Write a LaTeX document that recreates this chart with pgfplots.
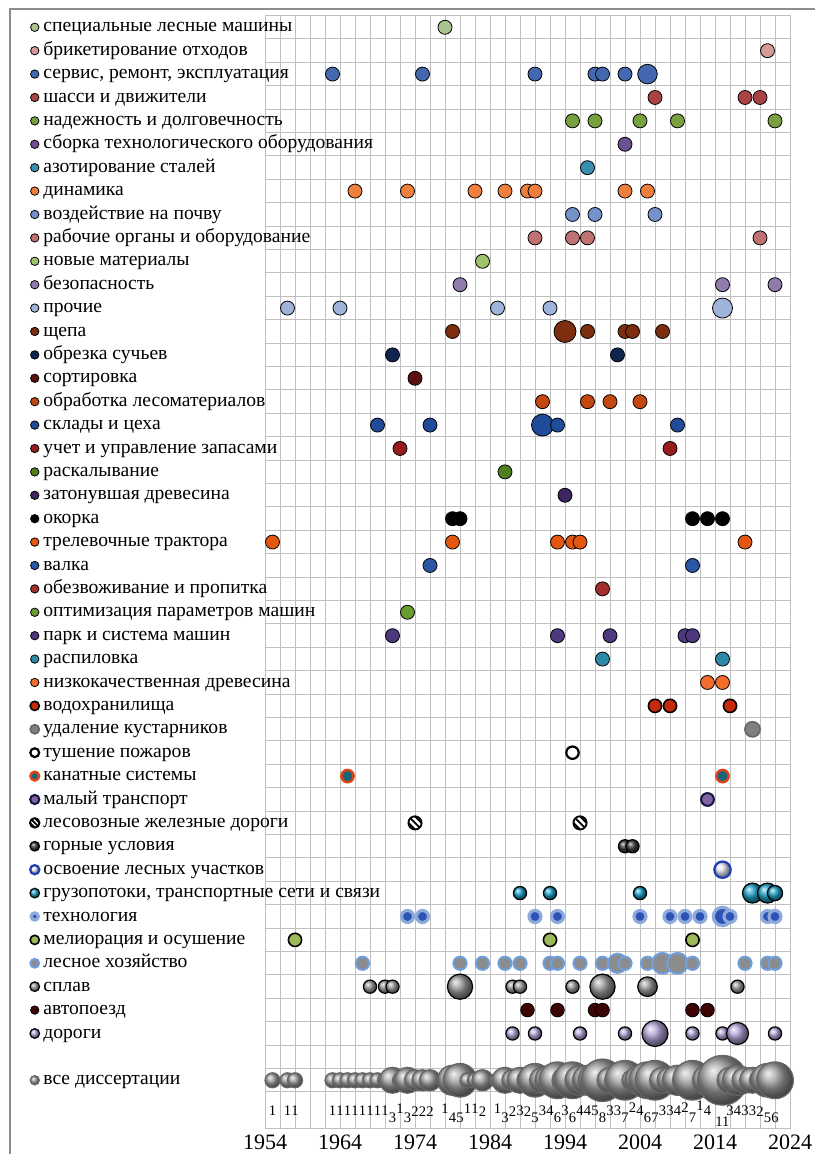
\documentclass[border=0pt]{standalone}
\usepackage{fontspec}
\setmainfont{Liberation Serif}
\usepackage{pgfplots}
\pgfplotsset{compat=1.18}
\definecolor{c1}{HTML}{A9C48E}
\definecolor{c2}{HTML}{D39A98}
\definecolor{c3}{HTML}{4468AF}
\definecolor{c4}{HTML}{A94343}
\definecolor{c5}{HTML}{78A03F}
\definecolor{c6}{HTML}{6B5191}
\definecolor{c7}{HTML}{3B8EAE}
\definecolor{c8}{HTML}{F07E3D}
\definecolor{c9}{HTML}{7491CC}
\definecolor{c10}{HTML}{C07272}
\definecolor{c11}{HTML}{9EC36B}
\definecolor{c12}{HTML}{8F7CAC}
\definecolor{c13}{HTML}{A0B3DA}
\definecolor{c14}{HTML}{7C2E0E}
\definecolor{c15}{HTML}{0F2550}
\definecolor{c16}{HTML}{5B1010}
\definecolor{c17}{HTML}{C3480F}
\definecolor{c18}{HTML}{1F4C99}
\definecolor{c19}{HTML}{971D1D}
\definecolor{c20}{HTML}{4F7F20}
\definecolor{c21}{HTML}{3C2561}
\definecolor{c22}{HTML}{000000}
\definecolor{c23}{HTML}{E3570F}
\definecolor{c24}{HTML}{2A56A6}
\definecolor{c25}{HTML}{A3302D}
\definecolor{c26}{HTML}{6B9C31}
\definecolor{c27}{HTML}{4E3880}
\definecolor{c28}{HTML}{2D89A7}
\definecolor{c29}{HTML}{F36C2C}
\definecolor{c30}{HTML}{C62A0D}
\definecolor{c31}{HTML}{808080}
\definecolor{c33}{HTML}{1A6478}
\definecolor{c33b}{HTML}{E04418}
\definecolor{c34}{HTML}{8064A2}
\definecolor{c34b}{HTML}{14143C}
\definecolor{c36}{HTML}{3A3A3A}
\definecolor{c37}{HTML}{E8E4F4}
\definecolor{c37b}{HTML}{1F3FB0}
\definecolor{c38}{HTML}{1AA0C8}
\definecolor{c39}{HTML}{2D53B5}
\definecolor{c39b}{HTML}{8EAADB}
\definecolor{c40}{HTML}{9BBB59}
\definecolor{c41}{HTML}{8C8C8C}
\definecolor{c41b}{HTML}{6F9FDC}
\definecolor{c42}{HTML}{9A9A9A}
\definecolor{c43}{HTML}{3D0404}
\definecolor{c44}{HTML}{B4A5D8}
\makeatletter
\pgfdeclareplotmark{striped}{%
  \pgfpathcircle{\pgfpointorigin}{\pgfplotmarksize}%
  \pgfsetfillcolor{white}\pgfusepathqfill
  \pgfscope
  \pgfpathcircle{\pgfpointorigin}{\pgfplotmarksize}\pgfusepathqclip
  \pgfpathmoveto{\pgfpoint{-\pgfplotmarksize}{\pgfplotmarksize}}%
  \pgfpathlineto{\pgfpoint{\pgfplotmarksize}{-\pgfplotmarksize}}%
  \pgfpathmoveto{\pgfpoint{-\pgfplotmarksize}{0pt}}%
  \pgfpathlineto{\pgfpoint{0pt}{-\pgfplotmarksize}}%
  \pgfpathmoveto{\pgfpoint{0pt}{\pgfplotmarksize}}%
  \pgfpathlineto{\pgfpoint{\pgfplotmarksize}{0pt}}%
  \pgfusepathqstroke
  \endpgfscope
  \pgfpathcircle{\pgfpointorigin}{\pgfplotmarksize}\pgfusepathqstroke
}
\makeatother
\pgfplotsset{
  vsz/.style={only marks, scatter,
    visualization depends on={\thisrow{s} \as \ms}},
  dot/.style={vsz, mark=*, scatter/use mapped color={draw=none, fill=#1, /tikz/mark size=\ms}},
  odot/.style n args={3}{vsz, mark=*, scatter/use mapped color={draw=#2, fill=#1, line width=#3, /tikz/mark size=\ms}},
  bdot/.style 2 args={vsz, mark=ball, scatter/use mapped color={ball color=#1, draw=#2, line width=0.6pt, /tikz/mark size=\ms}},
}
\begin{document}
\begin{tikzpicture}
\useasboundingbox (0,0) rectangle (407.5pt,-577pt);
\draw[black!45, line width=1pt] (5pt,-577pt) -- (5pt,-4.5pt) -- (407.5pt,-4.5pt);
\begin{axis}[
  at={(132.5pt,-564pt)}, anchor=south west,
  scale only axis, width=262.5pt, height=556.2pt,
  xmin=1954, xmax=2024, ymin=-48.04, ymax=-0.5,
  clip=false,
  xtick={1954,1964,...,2024},
  minor xtick={1956,1958,...,2022},
  xmajorgrids, xminorgrids,
  ytick={-1,-2,...,-44,-46},
  yticklabels={специальные лесные машины, брикетирование отходов, {сервис, ремонт, эксплуатация}, шасси и движители, надежность и долговечность, сборка технологического оборудования, азотирование сталей, динамика, воздействие на почву, рабочие органы и оборудование, новые материалы, безопасность, прочие, щепа, обрезка сучьев, сортировка, обработка лесоматериалов, склады и цеха, учет и управление запасами, раскалывание, затонувшая древесина, окорка, трелевочные трактора, валка, обезвоживание и пропитка, оптимизация параметров машин, парк и система машин, распиловка, низкокачественная древесина, водохранилища, удаление кустарников, тушение пожаров, канатные системы, малый транспорт, лесовозные железные дороги, горные условия, освоение лесных участков, {грузопотоки, транспортные сети и связи}, технология, мелиорация и осушение, лесное хозяйство, сплав, автопоезд, дороги, все диссертации},
  minor ytick={-1.5,-2.5,...,-46.5},
  yminorgrids,
  major tick length=0pt, minor tick length=0pt,
  grid style={black!25, line width=0.5pt},
  minor grid style={black!25, line width=0.5pt},
  axis line style={black!25, line width=0.5pt},
  /pgf/number format/assume math mode=true,
  xticklabel style={font=\fontsize{11}{13}\selectfont, /pgf/number format/1000 sep={}},
  yticklabel style={anchor=base west, inner sep=0pt, xshift=-111pt, yshift=-2.3pt, font=\fontsize{9.8}{12}\selectfont},
]
\addplot[dot=c1] table {x y s
1923.3 -1 2.1
1978 -1 3.5
};
\addplot[dot=c2] table {x y s
1923.3 -2 2.1
2021 -2 3.5
};
\addplot[dot=c3] table {x y s
1923.3 -3 2.1
1963 -3 3.5
1975 -3 3.5
1990 -3 3.5
1998 -3 3.5
1999 -3 3.5
2002 -3 3.5
2005 -3 4.9
};
\addplot[dot=c4] table {x y s
1923.3 -4 2.1
2006 -4 3.5
2018 -4 3.5
2020 -4 3.5
};
\addplot[dot=c5] table {x y s
1923.3 -5 2.1
1995 -5 3.5
1998 -5 3.5
2004 -5 3.5
2009 -5 3.5
2022 -5 3.5
};
\addplot[dot=c6] table {x y s
1923.3 -6 2.1
2002 -6 3.5
};
\addplot[dot=c7] table {x y s
1923.3 -7 2.1
1997 -7 3.5
};
\addplot[dot=c8] table {x y s
1923.3 -8 2.1
1966 -8 3.5
1973 -8 3.5
1982 -8 3.5
1986 -8 3.5
1989 -8 3.5
1990 -8 3.5
2002 -8 3.5
2005 -8 3.5
};
\addplot[dot=c9] table {x y s
1923.3 -9 2.1
1995 -9 3.5
1998 -9 3.5
2006 -9 3.5
};
\addplot[dot=c10] table {x y s
1923.3 -10 2.1
1990 -10 3.5
1995 -10 3.5
1997 -10 3.5
2020 -10 3.5
};
\addplot[dot=c11] table {x y s
1923.3 -11 2.1
1983 -11 3.5
};
\addplot[dot=c12] table {x y s
1923.3 -12 2.1
1980 -12 3.5
2015 -12 3.5
2022 -12 3.5
};
\addplot[dot=c13] table {x y s
1923.3 -13 2.1
1957 -13 3.5
1964 -13 3.5
1985 -13 3.5
1992 -13 3.5
2015 -13 5.0
};
\addplot[dot=c14] table {x y s
1923.3 -14 2.1
1979 -14 3.5
1994 -14 5.5
1997 -14 3.5
2002 -14 3.5
2003 -14 3.5
2007 -14 3.5
};
\addplot[dot=c15] table {x y s
1923.3 -15 2.1
1971 -15 3.5
2001 -15 3.5
};
\addplot[dot=c16] table {x y s
1923.3 -16 2.1
1974 -16 3.5
};
\addplot[dot=c17] table {x y s
1923.3 -17 2.1
1991 -17 3.5
1997 -17 3.5
2000 -17 3.5
2004 -17 3.5
};
\addplot[dot=c18] table {x y s
1923.3 -18 2.1
1969 -18 3.5
1976 -18 3.5
1991 -18 5.5
1993 -18 3.5
2009 -18 3.5
};
\addplot[dot=c19] table {x y s
1923.3 -19 2.1
1972 -19 3.5
2008 -19 3.5
};
\addplot[dot=c20] table {x y s
1923.3 -20 2.1
1986 -20 3.5
};
\addplot[dot=c21] table {x y s
1923.3 -21 2.1
1994 -21 3.5
};
\addplot[dot=c22] table {x y s
1923.3 -22 2.1
1979 -22 3.5
1980 -22 3.5
2011 -22 3.5
2013 -22 3.5
2015 -22 3.5
};
\addplot[dot=c23] table {x y s
1923.3 -23 2.1
1955 -23 3.5
1979 -23 3.5
1993 -23 3.5
1995 -23 3.5
1996 -23 3.5
2018 -23 3.5
};
\addplot[dot=c24] table {x y s
1923.3 -24 2.1
1976 -24 3.5
2011 -24 3.5
};
\addplot[dot=c25] table {x y s
1923.3 -25 2.1
1999 -25 3.5
};
\addplot[dot=c26] table {x y s
1923.3 -26 2.1
1973 -26 3.5
};
\addplot[dot=c27] table {x y s
1923.3 -27 2.1
1971 -27 3.5
1993 -27 3.5
2000 -27 3.5
2010 -27 3.5
2011 -27 3.5
};
\addplot[dot=c28] table {x y s
1923.3 -28 2.1
1999 -28 3.5
2015 -28 3.5
};
\addplot[dot=c29] table {x y s
1923.3 -29 2.1
2013 -29 3.5
2015 -29 3.5
};
\addplot[odot={c30}{black}{0.8pt}] table {x y s
1923.3 -30 2.3
2006 -30 3.3
2008 -30 3.3
2016 -30 3.3
};
\addplot[odot={c31}{black!60}{0.8pt}] table {x y s
1923.3 -31 2.3
2019 -31 3.8
};
\addplot[odot={white}{black}{1.1pt}] table {x y s
1923.3 -32 2.2
1995 -32 3.1
};
\addplot[odot={c33}{c33b}{1.2pt}] table {x y s
1923.3 -33 2.2
1965 -33 3.1
2015 -33 3.1
};
\addplot[odot={c34}{c34b}{1.0pt}] table {x y s
1923.3 -34 2.3
2013 -34 3.2
};
\addplot[vsz, mark=striped, scatter/use mapped color={draw=black, line width=0.9pt, /tikz/mark size=\ms}] table {x y s
1923.3 -35 2.4
1974 -35 3.3
1996 -35 3.3
};
\addplot[bdot={c36}{black}] table {x y s
1923.3 -36 2.4
2002 -36 3.3
2003 -36 3.3
};
\addplot[vsz, mark=ball, scatter/use mapped color={ball color=c37, draw=c37b, line width=1.1pt, /tikz/mark size=\ms}] table {x y s
1923.3 -37 2.3
2015 -37 4.1
};
\addplot[bdot={c38}{black}] table {x y s
1923.3 -38 2.4
1988 -38 3.3
1992 -38 3.3
2004 -38 3.3
2019 -38 5.0
2021 -38 5.0
2022 -38 3.8
};
\addplot[odot={c39}{c39b}{1.6pt}] table {x y s
1923.3 -39 1.8
1973 -39 3.0
1975 -39 3.0
1990 -39 3.0
1993 -39 3.0
2004 -39 3.0
2008 -39 3.0
2010 -39 3.0
2012 -39 3.0
2015 -39 4.6
2016 -39 3.0
2021 -39 3.0
2022 -39 3.0
};
\addplot[odot={c40}{black}{0.8pt}] table {x y s
1923.3 -40 2.3
1958 -40 3.3
1992 -40 3.3
2011 -40 3.3
};
\addplot[odot={c41}{c41b}{1.0pt}] table {x y s
1923.3 -41 2.2
1967 -41 3.3
1980 -41 3.3
1983 -41 3.3
1986 -41 3.3
1988 -41 3.3
1992 -41 3.3
1993 -41 3.3
1996 -41 3.3
1999 -41 3.3
2001 -41 4.8
2002 -41 3.3
2005 -41 3.3
2007 -41 5.2
2009 -41 5.2
2011 -41 3.3
2018 -41 3.3
2021 -41 3.3
2022 -41 3.3
};
\addplot[bdot={c42}{black}] table {x y s
1923.3 -42 2.4
1968 -42 3.3
1970 -42 3.3
1971 -42 3.3
1980 -42 6.3
1987 -42 3.3
1988 -42 3.3
1995 -42 3.3
1999 -42 6.3
2005 -42 4.9
2017 -42 3.3
};
\addplot[dot=c43] table {x y s
1923.3 -43 2.1
1989 -43 3.4
1993 -43 3.4
1998 -43 3.4
1999 -43 3.4
2011 -43 3.4
2013 -43 3.4
};
\addplot[bdot={c44}{black}] table {x y s
1923.3 -44 2.4
1987 -44 3.3
1990 -44 3.3
1996 -44 3.3
2002 -44 3.3
2006 -44 6.5
2011 -44 3.3
2015 -44 3.3
2017 -44 5.5
2022 -44 3.3
};
\addplot[bdot={black!38}{black!60}] table {x y s
1923.3 -46 2.3
1955 -46 3.75
1957 -46 3.75
1958 -46 3.75
1963 -46 3.75
1964 -46 3.75
1965 -46 3.75
1966 -46 3.75
1967 -46 3.75
1968 -46 3.75
1969 -46 3.75
1970 -46 3.75
1971 -46 6.50
1972 -46 3.75
1973 -46 6.50
1974 -46 5.30
1975 -46 5.30
1976 -46 5.30
1978 -46 3.75
1979 -46 7.50
1980 -46 8.39
1981 -46 3.75
1982 -46 3.75
1983 -46 5.30
1985 -46 3.75
1986 -46 6.50
1987 -46 5.30
1988 -46 6.50
1989 -46 5.30
1990 -46 8.39
1991 -46 6.50
1992 -46 7.50
1993 -46 9.19
1994 -46 6.50
1995 -46 9.19
1996 -46 7.50
1997 -46 7.50
1998 -46 8.39
1999 -46 10.61
2000 -46 6.50
2001 -46 6.50
2002 -46 9.92
2003 -46 5.30
2004 -46 7.50
2005 -46 9.19
2006 -46 9.92
2007 -46 6.50
2008 -46 6.50
2009 -46 7.50
2010 -46 5.30
2011 -46 9.92
2012 -46 3.75
2013 -46 7.50
2015 -46 12.44
2016 -46 6.50
2017 -46 7.50
2018 -46 6.50
2019 -46 6.50
2020 -46 5.30
2021 -46 8.39
2022 -46 9.19
};
\addplot[only marks, mark=none, nodes near coords, point meta=explicit symbolic,
  nodes near coords align=center,
  every node near coord/.append style={font=\fontsize{7.3}{7.3}\selectfont, inner sep=0pt}]
  table[meta=lab] {x y lab
1955 -47.32 1
1957 -47.32 1
1958 -47.32 1
1963 -47.32 1
1964 -47.32 1
1965 -47.32 1
1966 -47.32 1
1967 -47.32 1
1968 -47.32 1
1969 -47.32 1
1970 -47.32 1
1971 -47.62 3
1972 -47.22 1
1973 -47.62 3
1974 -47.32 2
1975 -47.32 2
1976 -47.32 2
1978 -47.22 1
1979 -47.62 4
1980 -47.62 5
1981 -47.22 1
1982 -47.22 1
1983 -47.32 2
1985 -47.22 1
1986 -47.62 3
1987 -47.32 2
1988 -47.32 3
1989 -47.32 2
1990 -47.62 5
1991 -47.32 3
1992 -47.32 4
1993 -47.62 6
1994 -47.32 3
1995 -47.62 6
1996 -47.32 4
1997 -47.32 4
1998 -47.32 5
1999 -47.62 8
2000 -47.32 3
2001 -47.32 3
2002 -47.62 7
2003 -47.15 2
2004 -47.32 4
2005 -47.62 6
2006 -47.62 7
2007 -47.32 3
2008 -47.32 3
2009 -47.32 4
2010 -47.15 2
2011 -47.62 7
2012 -47.1 1
2013 -47.32 4
2015 -47.75 11
2016 -47.32 3
2017 -47.32 4
2018 -47.32 3
2019 -47.32 3
2020 -47.32 2
2021 -47.62 5
2022 -47.62 6
};
\end{axis}
\end{tikzpicture}
\end{document}
